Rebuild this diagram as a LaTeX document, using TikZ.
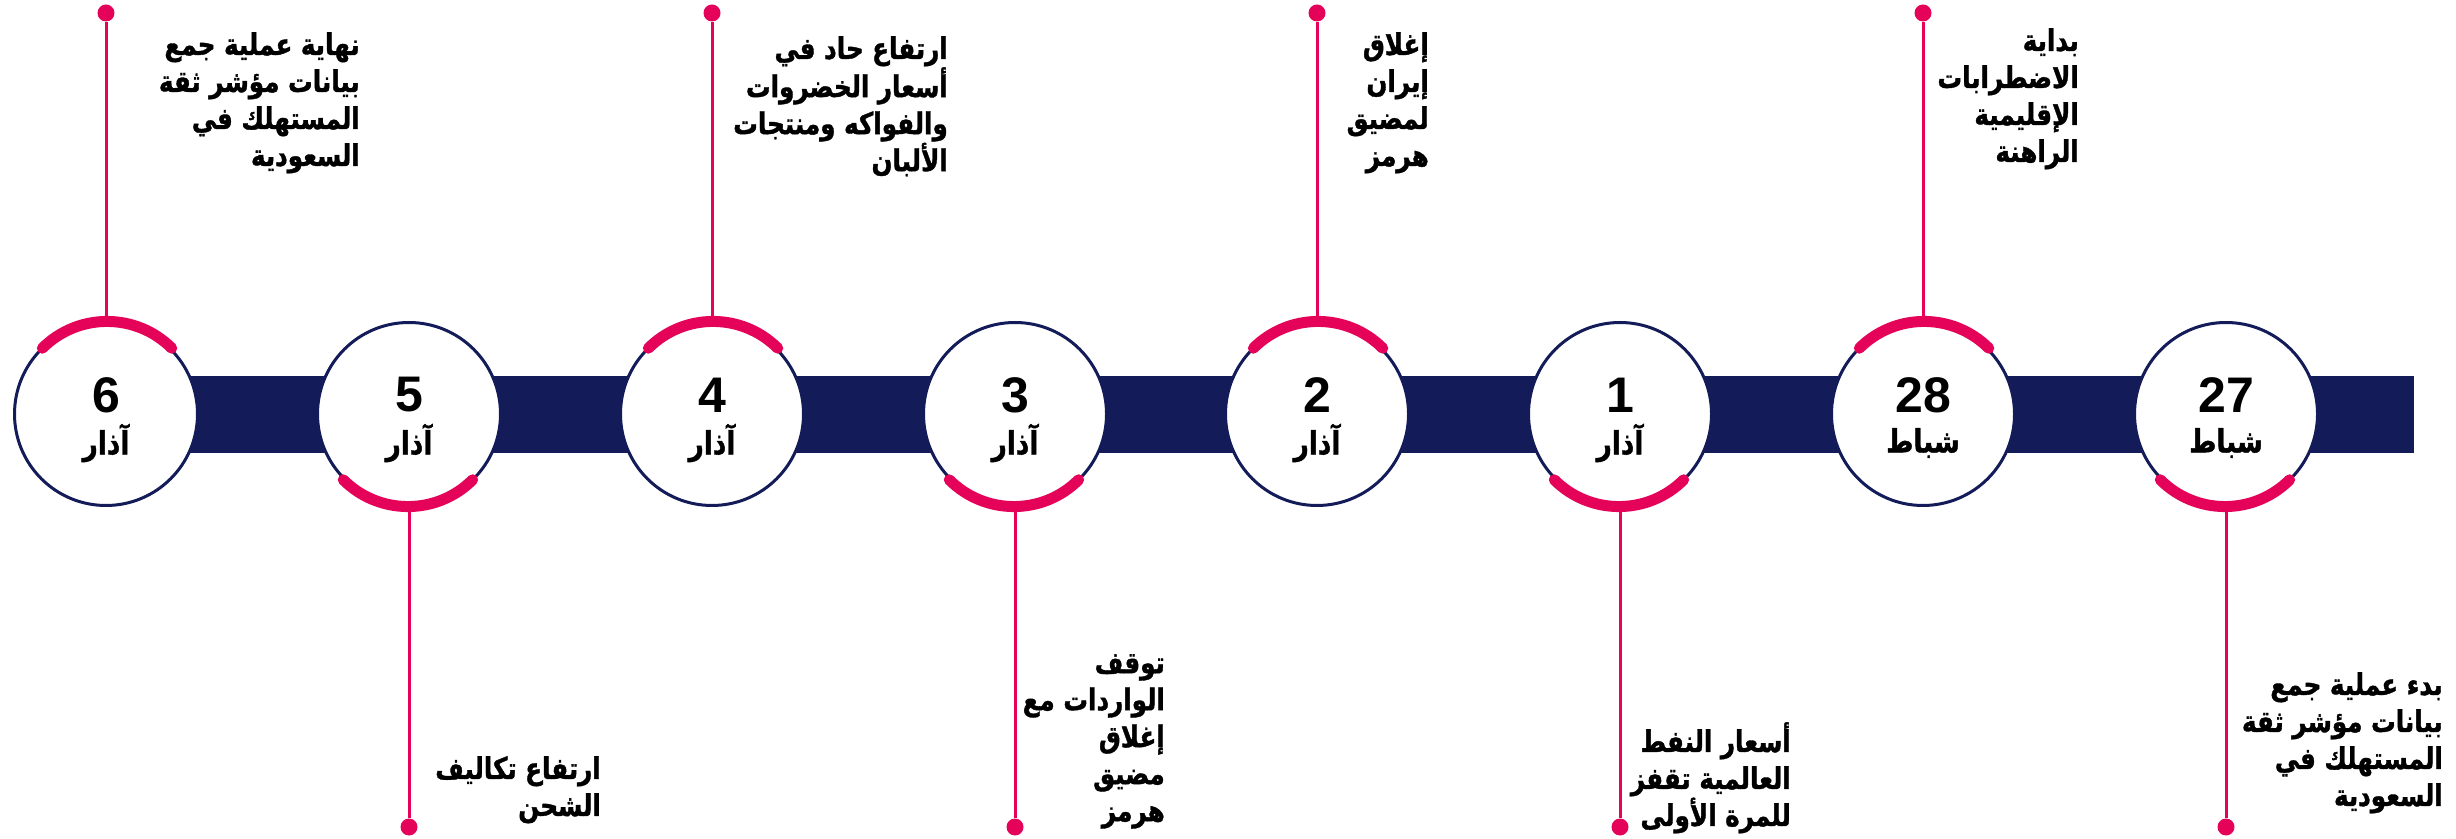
\documentclass[tikz,border=0pt]{standalone}
\usepackage{fontspec}
\setmainfont{Liberation Sans}
\newfontfamily\arabicfont[Script=Arabic,FakeStretch=0.82,BoldFeatures={FakeBold=1.2}]{DejaVu Sans}
\TeXXeTstate=1
\usetikzlibrary{positioning}
\definecolor{navy}{RGB}{19,28,89}
\definecolor{rose}{RGB}{229,3,90}
\newcommand{\rl}[1]{\beginR #1\endR}

\begin{document}
\begin{tikzpicture}[x=1pt,y=1pt,
  day/.style={circle,draw=navy,line width=3pt,fill=white,minimum size=183pt,inner sep=0pt},
  num/.style={font=\fontsize{50}{50}\selectfont\bfseries,inner sep=0pt},
  month/.style={font=\arabicfont\bfseries\fontsize{32}{32}\selectfont,inner sep=0pt},
  stem/.style={draw=rose,line width=3pt},
  dot/.style={circle,fill=rose,inner sep=0pt,minimum size=17pt},
  hilite/.style={draw=rose,line width=11pt,line cap=round},
  note/.style={font=\arabicfont\bfseries\fontsize{30}{37}\selectfont,align=right,inner sep=0pt}]
  \useasboundingbox (0,0) rectangle (2456,838);
  \fill[navy] (106,385) rectangle (2414,462);

  % 6
  \draw (106,424) node (c6) [day] {};
  \node (n6) [num] at ([yshift=19pt]c6.center) {6};
  \node (m6) [month] at ([yshift=-29pt]c6.center) {\rl{آذار}};
  \node (p6) [dot] at (106,825) {};
  \draw[hilite] (c6.45) arc[start angle=45,end angle=135,radius=91.5];
  \draw[stem] (c6.north) -- (p6);
  \node (t6) [note,anchor=north east] at (360,806)
    {\rl{نهاية عملية جمع}\\\rl{بيانات مؤشر ثقة}\\\rl{المستهلك في}\\\rl{السعودية}};

  % 5
  \draw (409,424) node (c5) [day] {};
  \node (n5) [num] at ([yshift=19pt]c5.center) {5};
  \node (m5) [month] at ([yshift=-29pt]c5.center) {\rl{آذار}};
  \node (p5) [dot] at (409,11) {};
  \draw[hilite] (c5.225) arc[start angle=225,end angle=315,radius=91.5];
  \draw[stem] (c5.south) -- (p5);
  \node (t5) [note,anchor=north east] at (601,82)
    {\rl{ارتفاع تكاليف}\\\rl{الشحن}};

  % 4
  \draw (712,424) node (c4) [day] {};
  \node (n4) [num] at ([yshift=19pt]c4.center) {4};
  \node (m4) [month] at ([yshift=-29pt]c4.center) {\rl{آذار}};
  \node (p4) [dot] at (712,825) {};
  \draw[hilite] (c4.45) arc[start angle=45,end angle=135,radius=91.5];
  \draw[stem] (c4.north) -- (p4);
  \node (t4) [note,anchor=north east] at (948,802)
    {\rl{ارتفاع حاد في}\\\rl{أسعار الخضروات}\\\rl{والفواكه ومنتجات}\\\rl{الألبان}};

  % 3
  \draw (1015,424) node (c3) [day] {};
  \node (n3) [num] at ([yshift=19pt]c3.center) {3};
  \node (m3) [month] at ([yshift=-29pt]c3.center) {\rl{آذار}};
  \node (p3) [dot] at (1015,11) {};
  \draw[hilite] (c3.225) arc[start angle=225,end angle=315,radius=91.5];
  \draw[stem] (c3.south) -- (p3);
  \node (t3) [note,anchor=north east] at (1165,184)
    {\rl{توقف}\\\rl{الواردات مع}\\\rl{إغلاق}\\\rl{مضيق}\\\rl{هرمز}};

  % 2
  \draw (1317,424) node (c2) [day] {};
  \node (n2) [num] at ([yshift=19pt]c2.center) {2};
  \node (m2) [month] at ([yshift=-29pt]c2.center) {\rl{آذار}};
  \node (p2) [dot] at (1317,825) {};
  \draw[hilite] (c2.45) arc[start angle=45,end angle=135,radius=91.5];
  \draw[stem] (c2.north) -- (p2);
  \node (t2) [note,anchor=north east] at (1429,806)
    {\rl{إغلاق}\\\rl{إيران}\\\rl{لمضيق}\\\rl{هرمز}};

  % 1
  \draw (1620,424) node (c1) [day] {};
  \node (n1) [num] at ([yshift=19pt]c1.center) {1};
  \node (m1) [month] at ([yshift=-29pt]c1.center) {\rl{آذار}};
  \node (p1) [dot] at (1620,11) {};
  \draw[hilite] (c1.225) arc[start angle=225,end angle=315,radius=91.5];
  \draw[stem] (c1.south) -- (p1);
  \node (t1) [note,anchor=north east] at (1791,116)
    {\rl{أسعار النفط}\\\rl{العالمية تقفز}\\\rl{للمرة الأولى}};

  % 28
  \draw (1923,424) node (c28) [day] {};
  \node (n28) [num] at ([yshift=19pt]c28.center) {28};
  \node (m28) [month] at ([yshift=-29pt]c28.center) {\rl{شباط}};
  \node (p28) [dot] at (1923,825) {};
  \draw[hilite] (c28.45) arc[start angle=45,end angle=135,radius=91.5];
  \draw[stem] (c28.north) -- (p28);
  \node (t28) [note,anchor=north east] at (2079,810)
    {\rl{بداية}\\\rl{الاضطرابات}\\\rl{الإقليمية}\\\rl{الراهنة}};

  % 27
  \draw (2226,424) node (c27) [day] {};
  \node (n27) [num] at ([yshift=19pt]c27.center) {27};
  \node (m27) [month] at ([yshift=-29pt]c27.center) {\rl{شباط}};
  \node (p27) [dot] at (2226,11) {};
  \draw[hilite] (c27.225) arc[start angle=225,end angle=315,radius=91.5];
  \draw[stem] (c27.south) -- (p27);
  \node (t27) [note,anchor=north east] at (2443,166)
    {\rl{بدء عملية جمع}\\\rl{بيانات مؤشر ثقة}\\\rl{المستهلك في}\\\rl{السعودية}};
\end{tikzpicture}
\end{document}
